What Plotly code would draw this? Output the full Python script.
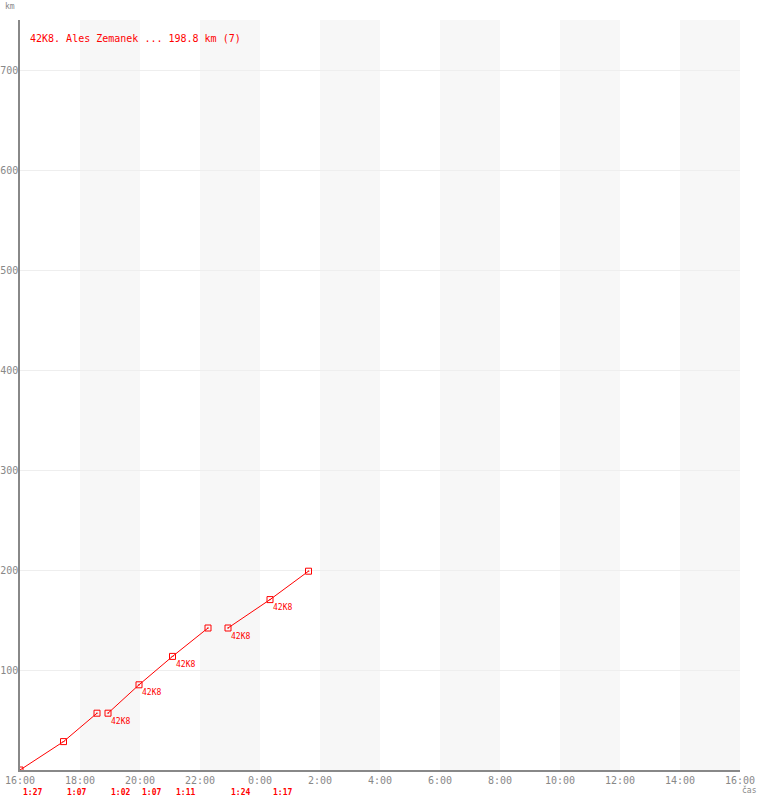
import plotly.graph_objects as go
from datetime import datetime, timedelta

# passages (time of day, km), stints split by the pit stops
cas = ["16:00", "17:27", "18:34", "18:56", "19:58", "21:05", "22:16", "22:56", "0:20", "1:37"]
km = [0, 28.4, 56.8, 56.8, 85.2, 113.6, 142.0, 142.0, 170.4, 198.8]
stint = [1, 1, 1, 2, 2, 2, 2, 3, 3, 3]
popisky = ["", "", "", "42K8", "42K8", "42K8", "", "42K8", "42K8", ""]

# lap start times and lap durations shown under the axis
kolo_start = ["16:00", "17:27", "18:56", "19:58", "21:05", "22:56", "0:20"]
kolo_cas = ["1:27", "1:07", "1:02", "1:07", "1:11", "1:24", "1:17"]

titulek = "42K8. Ales Zemanek ... 198.8 km (7)"
START = datetime(2024, 6, 1, 16, 0)


def na_datum(s):
    h, m = map(int, s.split(":"))
    d = START.replace(hour=h, minute=m)
    if d < START:
        d += timedelta(days=1)
    return d


cervena = "#ff0000"
sedy = "#888888"
fig = go.Figure()

# light bands every other 2 hours
for i in range(1, 12, 2):
    fig.add_shape(type="rect", xref="x", yref="paper",
                  x0=START + timedelta(hours=2 * i), x1=START + timedelta(hours=2 * i + 2),
                  y0=0, y1=1, fillcolor="#f7f7f7", line_width=0, layer="below")

for s in sorted(set(stint)):
    idx = [i for i in range(len(cas)) if stint[i] == s]
    fig.add_trace(go.Scatter(
        x=[na_datum(cas[i]) for i in idx],
        y=[km[i] for i in idx],
        mode="lines+markers",
        line=dict(color=cervena, width=1),
        marker=dict(symbol="square-open-dot", size=6, color=cervena, line=dict(width=1, color=cervena)),
        showlegend=False, hoverinfo="skip",
    ))

for c, k, p in zip(cas, km, popisky):
    if p:
        fig.add_annotation(x=na_datum(c), y=k, text=p, showarrow=False,
                           xanchor="left", yanchor="middle", xshift=1, yshift=-8,
                           font=dict(family="DejaVu Sans Mono", size=8, color=cervena))

for c, t in zip(kolo_start, kolo_cas):
    fig.add_annotation(x=na_datum(c), y=0, yref="paper", text="<b>" + t + "</b>",
                       showarrow=False, xanchor="left", yanchor="middle", xshift=1, yshift=-22,
                       font=dict(family="DejaVu Sans Mono", size=8, color=cervena))

fig.add_annotation(x=0, y=1, xref="paper", yref="paper", text=titulek, showarrow=False,
                   xanchor="left", yanchor="middle", xshift=8, yshift=-18,
                   font=dict(family="DejaVu Sans Mono", size=10, color=cervena))
fig.add_annotation(x=0, y=1, xref="paper", yref="paper", text="km", showarrow=False,
                   xanchor="left", yanchor="middle", xshift=-17, yshift=14,
                   font=dict(family="DejaVu Sans Mono", size=8, color=sedy))
fig.add_annotation(x=1, y=0, xref="paper", yref="paper", text="čas", showarrow=False,
                   xanchor="left", yanchor="middle", xshift=0, yshift=-20,
                   font=dict(family="DejaVu Sans Mono", size=8, color=sedy))

fig.update_xaxes(
    type="date", range=[START, START + timedelta(hours=24)],
    dtick=2 * 3600 * 1000, tick0=START, tickformat="%-H:%M",
    showgrid=False, showline=True, linecolor=sedy, linewidth=1.5,
    ticks="", automargin=False, zeroline=False,
    tickfont=dict(family="DejaVu Sans Mono", size=10, color=sedy),
)
fig.update_yaxes(
    range=[0, 750], tickvals=[100, 200, 300, 400, 500, 600, 700],
    showgrid=True, gridcolor="#eeeeee", gridwidth=1,
    showline=True, linecolor=sedy, linewidth=1.5,
    ticks="", automargin=False, zeroline=False, ticklabelstandoff=-2,
    tickfont=dict(family="DejaVu Sans Mono", size=10, color=sedy),
)
fig.update_layout(
    width=760, height=800,
    margin=dict(l=20, r=20, t=20, b=30),
    plot_bgcolor="white", paper_bgcolor="white",
    showlegend=False,
)

fig.write_html("out.html", config={"displayModeBar": False},
               post_script="document.body.style.margin='0';")
